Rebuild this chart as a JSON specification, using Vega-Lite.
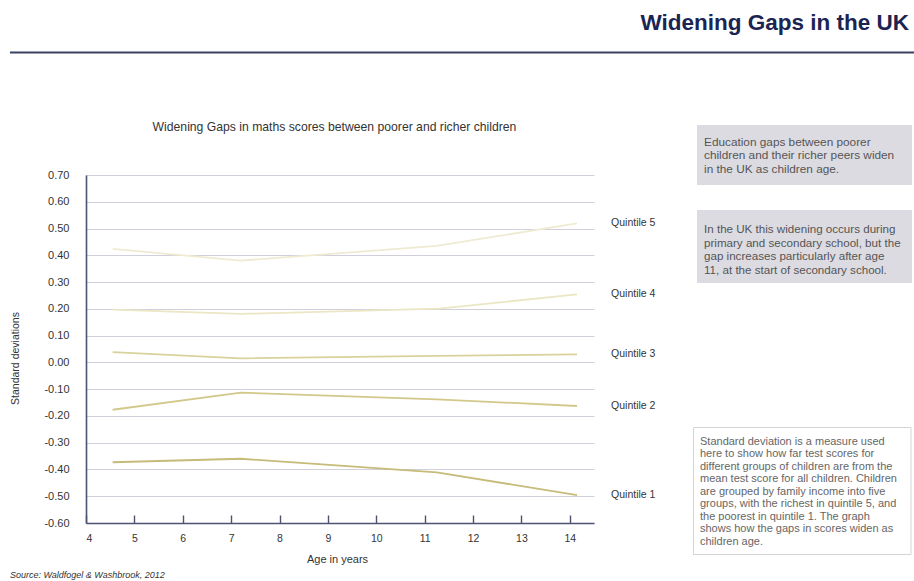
{
  "$schema": "https://vega.github.io/schema/vega-lite/v6.json",
  "width": 508,
  "height": 348,
  "autosize": {"type": "none"},
  "padding": {"left": 86, "top": 175, "right": 320, "bottom": 58},
  "background": "white",
  "config": {
    "view": {"stroke": null},
    "font": "Liberation Sans",
    "axis": {"labelFont": "Liberation Sans", "titleFont": "Liberation Sans"}
  },
  "data": {
    "values": [
      {"series": "Quintile 5", "age": 4.55, "sd": 0.424},
      {"series": "Quintile 5", "age": 7.2, "sd": 0.380},
      {"series": "Quintile 5", "age": 11.25, "sd": 0.435},
      {"series": "Quintile 5", "age": 14.15, "sd": 0.519},
      {"series": "Quintile 4", "age": 4.55, "sd": 0.197},
      {"series": "Quintile 4", "age": 7.2, "sd": 0.181},
      {"series": "Quintile 4", "age": 11.3, "sd": 0.201},
      {"series": "Quintile 4", "age": 14.15, "sd": 0.254},
      {"series": "Quintile 3", "age": 4.55, "sd": 0.038},
      {"series": "Quintile 3", "age": 7.2, "sd": 0.015},
      {"series": "Quintile 3", "age": 11.25, "sd": 0.024},
      {"series": "Quintile 3", "age": 14.15, "sd": 0.030},
      {"series": "Quintile 2", "age": 4.55, "sd": -0.177},
      {"series": "Quintile 2", "age": 7.2, "sd": -0.113},
      {"series": "Quintile 2", "age": 11.25, "sd": -0.138},
      {"series": "Quintile 2", "age": 14.15, "sd": -0.163},
      {"series": "Quintile 1", "age": 4.55, "sd": -0.373},
      {"series": "Quintile 1", "age": 7.2, "sd": -0.360},
      {"series": "Quintile 1", "age": 11.25, "sd": -0.411},
      {"series": "Quintile 1", "age": 14.15, "sd": -0.496}
    ]
  },
  "layer": [
    {
      "mark": {"type": "line", "strokeWidth": 1.8},
      "encoding": {
        "x": {
          "field": "age", "type": "quantitative",
          "scale": {"domain": [4, 14.5], "nice": false, "zero": false},
          "axis": {
            "values": [4, 5, 6, 7, 8, 9, 10, 11, 12, 13, 14],
            "tickCount": 30,
            "format": "d",
            "grid": false,
            "domainColor": "#4b5272", "domainWidth": 1.6,
            "tickColor": "#4b5272", "tickWidth": 1.4, "tickSize": -8,
            "labelFontSize": 10.5, "labelColor": "#333333", "labelPadding": 18, "labelOverlap": false,
            "title": "Age in years", "titleFontSize": 11, "titleFontWeight": "normal", "titleColor": "#333333",
            "titleX": 251, "titleY": 36, "titleBaseline": "middle", "titleAlign": "center"
          }
        },
        "y": {
          "field": "sd", "type": "quantitative",
          "scale": {"domain": [-0.6, 0.7], "nice": false, "zero": false},
          "axis": {
            "values": [-0.6, -0.5, -0.4, -0.3, -0.2, -0.1, 0, 0.1, 0.2, 0.3, 0.4, 0.5, 0.6, 0.7],
            "tickCount": 30,
            "labelExpr": "replace(format(datum.value, '.2f'), '\u2212', '-')",
            "labelOverlap": false,
            "grid": true, "gridColor": "#d2cfdc", "gridWidth": 1.2,
            "domainColor": "#4b5272", "domainWidth": 1.6,
            "ticks": false, "tickSize": 0,
            "labelFontSize": 11, "labelColor": "#333333", "labelPadding": 17,
            "title": "Standard deviations", "titleFontSize": 10.5, "titleFontWeight": "normal", "titleColor": "#333333",
            "titleX": -71, "titleY": 183, "titleBaseline": "middle", "titleAlign": "center", "titleAngle": -90
          }
        },
        "color": {
          "field": "series", "type": "nominal",
          "scale": {
            "domain": ["Quintile 1", "Quintile 2", "Quintile 3", "Quintile 4", "Quintile 5"],
            "range": ["#c6bb78", "#d2c88a", "#d9d29c", "#ebe6c4", "#efebd3"]
          },
          "legend": null
        }
      }
    },
    {
      "transform": [{"filter": "datum.age > 14"}],
      "mark": {"type": "text", "align": "left", "baseline": "middle", "dx": 34, "fontSize": 10.5, "color": "#333333"},
      "encoding": {
        "x": {"field": "age", "type": "quantitative"},
        "y": {"field": "sd", "type": "quantitative"},
        "text": {"field": "series"}
      }
    },
    {
      "data": {"values": [{}]},
      "mark": {"type": "text", "align": "center", "baseline": "middle", "fontSize": 12.2, "color": "#333333",
               "text": "Widening Gaps in maths scores between poorer and richer children"},
      "encoding": {"x": {"datum": 9.136}, "y": {"datum": 0.8793}}
    },
    {
      "data": {"values": [{}]},
      "mark": {"type": "text", "align": "right", "baseline": "alphabetic", "fontSize": 22.5, "fontWeight": "bold", "color": "#1c2452",
               "text": "Widening Gaps in the UK"},
      "encoding": {"x": {"datum": 21.011}, "y": {"datum": 1.2435}}
    },
    {
      "data": {"values": [{}]},
      "mark": {"type": "rule", "color": "#3a4062", "strokeWidth": 2},
      "encoding": {"x": {"datum": 2.429}, "x2": {"datum": 21.114}, "y": {"datum": 1.1576}}
    },
    {
      "data": {"values": [{}]},
      "mark": {"type": "rect", "color": "#dcdbe2"},
      "encoding": {"x": {"datum": 16.629}, "x2": {"datum": 21.073}, "y": {"datum": 0.8868}, "y2": {"datum": 0.6626}}
    },
    {
      "data": {"values": [{}]},
      "mark": {"type": "rect", "color": "#dcdbe2"},
      "encoding": {"x": {"datum": 16.629}, "x2": {"datum": 21.073}, "y": {"datum": 0.5693}, "y2": {"datum": 0.2966}}
    },
    {
      "data": {"values": [{}]},
      "mark": {"type": "rect", "fill": "white", "stroke": "#d4d4d8", "strokeWidth": 1},
      "encoding": {"x": {"datum": 16.557}, "x2": {"datum": 21.052}, "y": {"datum": -0.2433}, "y2": {"datum": -0.7177}}
    },
    {
      "data": {"values": [{}]},
      "mark": {"type": "text", "align": "left", "baseline": "alphabetic", "fontSize": 11.8, "lineHeight": 13.5, "color": "#555555",
               "text": ["Education gaps between poorer", "children and their richer peers widen", "in the UK as children age."]},
      "encoding": {"x": {"datum": 16.774}, "y": {"datum": 0.8102}}
    },
    {
      "data": {"values": [{}]},
      "mark": {"type": "text", "align": "left", "baseline": "alphabetic", "fontSize": 11.6, "lineHeight": 13.5, "color": "#555555",
               "text": ["In the UK this widening occurs during", "primary and secondary school, but the", "gap increases particularly after age", "11, at the start of secondary school."]},
      "encoding": {"x": {"datum": 16.774}, "y": {"datum": 0.4822}}
    },
    {
      "data": {"values": [{}]},
      "mark": {"type": "text", "align": "left", "baseline": "alphabetic", "fontSize": 11, "lineHeight": 12.5, "color": "#666666",
               "text": ["Standard deviation is a measure used", "here to show how far test scores for", "different groups of children are from the", "mean test score for all children.  Children", "are grouped by family income into five", "groups, with the richest in quintile 5, and", "the poorest in quintile 1. The graph", "shows how the gaps in scores widen as", "children age."]},
      "encoding": {"x": {"datum": 16.691}, "y": {"datum": -0.3086}}
    },
    {
      "data": {"values": [{}]},
      "mark": {"type": "text", "align": "left", "baseline": "alphabetic", "fontSize": 9, "fontStyle": "italic", "color": "#333333",
               "text": "Source: Waldfogel & Washbrook, 2012"},
      "encoding": {"x": {"datum": 2.429}, "y": {"datum": -0.8036}}
    }
  ]
}
